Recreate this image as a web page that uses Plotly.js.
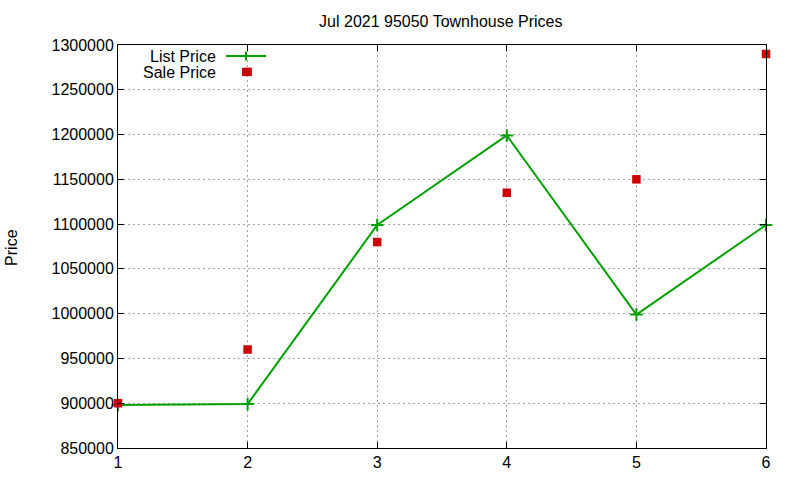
<!DOCTYPE html>
<html>
<head>
<meta charset="utf-8">
<script src="https://cdn.plot.ly/plotly-3.0.1.min.js"></script>
<style>html,body{margin:0;padding:0;background:#fff;}#chart{width:800px;height:480px;}</style>
</head>
<body>
<div id="chart"></div>
<script>
// Data
const listX = [1, 2, 3, 4, 5, 6];
const listPrice = [898000, 899000, 1099000, 1199000, 999000, 1099000];
const saleX = [1, 2, 2, 3, 4, 5, 6];
const salePrice = [900000, 1270000, 960000, 1080000, 1135000, 1150000, 1290000];
const xTicks = [1, 2, 3, 4, 5, 6];
const yTicks = [850000, 900000, 950000, 1000000, 1050000, 1100000, 1150000, 1200000, 1250000, 1300000];

const GREEN = '#00a000';
const RED = '#cc0000';
const FONT = 'Liberation Sans, Arial, sans-serif';

const traces = [
  {
    x: listX, y: listPrice, name: 'List Price', type: 'scatter', mode: 'lines+markers',
    line: {color: GREEN, width: 2},
    marker: {symbol: 'cross-thin', size: 9, color: GREEN, line: {color: GREEN, width: 2}},
    cliponaxis: false, showlegend: false
  },
  {
    x: saleX, y: salePrice, name: 'Sale Price', type: 'scatter', mode: 'markers',
    marker: {symbol: 'square', size: 8.5, color: RED, line: {width: 0}},
    cliponaxis: false, showlegend: false
  }
];

// Legend (gnuplot style: text right-aligned, sample to the right)
const legTextX = 0.1543, legSampleX0 = 0.1667, legSampleX1 = 0.2284, legSampleC = 0.1975;
const legY1 = 0.9727, legY2 = 0.933;

const layout = {
  width: 800, height: 480,
  margin: {l: 118, r: 34, t: 45, b: 32},
  paper_bgcolor: '#fff', plot_bgcolor: '#fff',
  font: {family: FONT, size: 15, color: '#000'},
  title: {text: 'Jul 2021 95050 Townhouse Prices', x: 0.551, xanchor: 'center', y: 0.956, yanchor: 'middle', font: {family: FONT, size: 16, color: '#000'}},
  xaxis: {
    range: [1, 6], tickvals: xTicks, ticktext: xTicks.map(String),
    ticks: 'inside', ticklen: 6, tickcolor: '#000', tickwidth: 1,
    showline: true, linecolor: '#000', linewidth: 1, mirror: 'allticks',
    showgrid: true, gridcolor: '#a0a0a0', griddash: '2px,3px', gridwidth: 1,
    zeroline: false, tickfont: {family: FONT, size: 16}, fixedrange: true
  },
  yaxis: {
    range: [850000, 1300000], tickvals: yTicks, ticktext: yTicks.map(String),
    ticks: 'inside', ticklen: 6, tickcolor: '#000', tickwidth: 1,
    showline: true, linecolor: '#000', linewidth: 1, mirror: 'allticks',
    showgrid: true, gridcolor: '#a0a0a0', griddash: '2px,3px', gridwidth: 1,
    zeroline: false, tickfont: {family: FONT, size: 16}, fixedrange: true
  },
  annotations: [
    {xref: 'paper', yref: 'paper', x: -0.1636, y: 0.499, xanchor: 'center', yanchor: 'middle', textangle: -90, text: 'Price', showarrow: false, font: {family: FONT, size: 16, color: '#000'}},
    {xref: 'paper', yref: 'paper', x: legTextX, y: legY1, xanchor: 'right', yanchor: 'middle', text: 'List Price', showarrow: false, font: {family: FONT, size: 16, color: '#000'}},
    {xref: 'paper', yref: 'paper', x: legTextX, y: legY2, xanchor: 'right', yanchor: 'middle', text: 'Sale Price', showarrow: false, font: {family: FONT, size: 16, color: '#000'}}
  ],
  shapes: [
    {type: 'line', xref: 'paper', yref: 'paper', x0: legSampleX0, x1: legSampleX1, y0: legY1, y1: legY1, line: {color: GREEN, width: 2}},
    {type: 'line', xref: 'paper', yref: 'paper', xsizemode: 'pixel', ysizemode: 'pixel', xanchor: legSampleC, yanchor: legY1, x0: 0, x1: 0, y0: -4.5, y1: 4.5, line: {color: GREEN, width: 2}},
    {type: 'rect', xref: 'paper', yref: 'paper', xsizemode: 'pixel', ysizemode: 'pixel', xanchor: legSampleC, yanchor: legY2, x0: -4, x1: 4, y0: -4, y1: 4, fillcolor: RED, line: {width: 0}}
  ]
};

Plotly.newPlot('chart', traces, layout, {displayModeBar: false, staticPlot: true});
</script>
</body>
</html>
